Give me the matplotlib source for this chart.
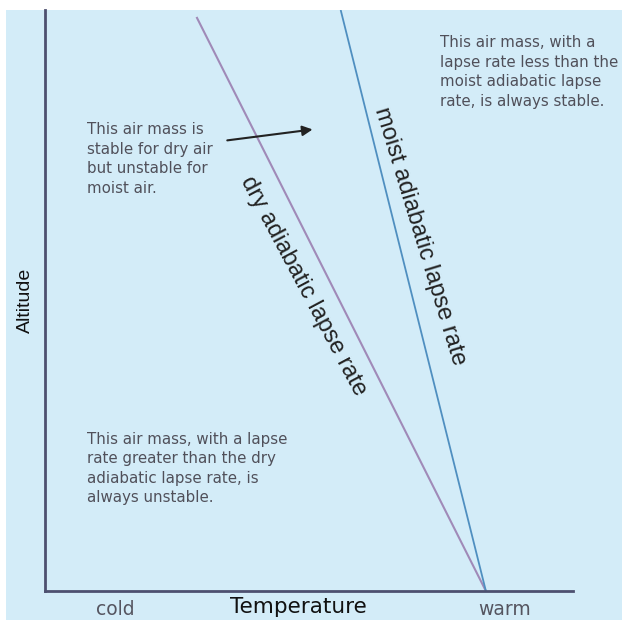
import matplotlib.pyplot as plt
from matplotlib.patches import Rectangle

# lapse rate lines (temperature, altitude) in arbitrary units
dry_temp = [8.35, 2.87]
dry_alt = [0.0, 9.88]
moist_temp = [8.35, 5.6]
moist_alt = [0.0, 10.0]

temp_labels = ['cold', 'warm']
temp_label_pos = [1.33, 8.7]

notes = [
    'This air mass, with a\nlapse rate less than the\nmoist adiabatic lapse\nrate, is always stable.',
    'This air mass is\nstable for dry air\nbut unstable for\nmoist air.',
    'This air mass, with a lapse\nrate greater than the dry\nadiabatic lapse rate, is\nalways unstable.',
]
note_pos = [(7.48, 9.57), (0.8, 8.07), (0.8, 2.74)]

plt.rcParams['font.family'] = ['Liberation Sans', 'DejaVu Sans']

fig = plt.figure(figsize=(6.22, 6.20), dpi=100)
fig.patch.set_facecolor('white')

# light blue panel behind everything
bg = fig.add_axes([6/622, 0, 616/622, 610/620], zorder=-5)
bg.axis('off')
bg.add_patch(Rectangle((0, 0), 1, 1, transform=bg.transAxes,
                       facecolor='#d3ecf8', edgecolor='none'))

ax = fig.add_axes([45/622, 29/620, 528/622, 581/620])
ax.set_facecolor('none')
ax.set_xlim(0, 10)
ax.set_ylim(0, 10)
for s in ['top', 'right']:
    ax.spines[s].set_visible(False)
for s in ['left', 'bottom']:
    ax.spines[s].set_color('#4d5070')
    ax.spines[s].set_linewidth(2)
ax.set_xticks([])
ax.set_yticks([])

ax.plot(dry_temp, dry_alt, color='#a08ab8', lw=1.5, solid_capstyle='butt')
ax.plot(moist_temp, moist_alt, color='#4f8fc0', lw=1.3, solid_capstyle='butt')

ax.text(4.9, 5.25, 'dry adiabatic lapse rate', rotation=-62, fontsize=17,
        color='#222222', ha='center', va='center', rotation_mode='anchor')
ax.text(7.1, 6.1, 'moist adiabatic lapse rate', rotation=-73, fontsize=17,
        color='#222222', ha='center', va='center', rotation_mode='anchor')

for txt, (x, y) in zip(notes, note_pos):
    ax.text(x, y, txt, fontsize=10.8, color='#50505a', ha='left', va='top',
            linespacing=1.38, family='DejaVu Sans')

ax.annotate('', xy=(5.12, 7.95), xytext=(3.4, 7.75),
            arrowprops=dict(arrowstyle='-|>', color='#222222', lw=1.5,
                            mutation_scale=15))

ax.set_ylabel('Altitude', fontsize=14, labelpad=8, color='#111111')
ax.text(4.8, -0.27, 'Temperature', fontsize=15.5, ha='center', va='center',
        color='#111111', family='DejaVu Sans')
for lab, x in zip(temp_labels, temp_label_pos):
    ax.text(x, -0.32, lab, fontsize=13.5, ha='center', va='center',
            color='#555560', family='DejaVu Sans')

fig.savefig('out.png', dpi=100)
